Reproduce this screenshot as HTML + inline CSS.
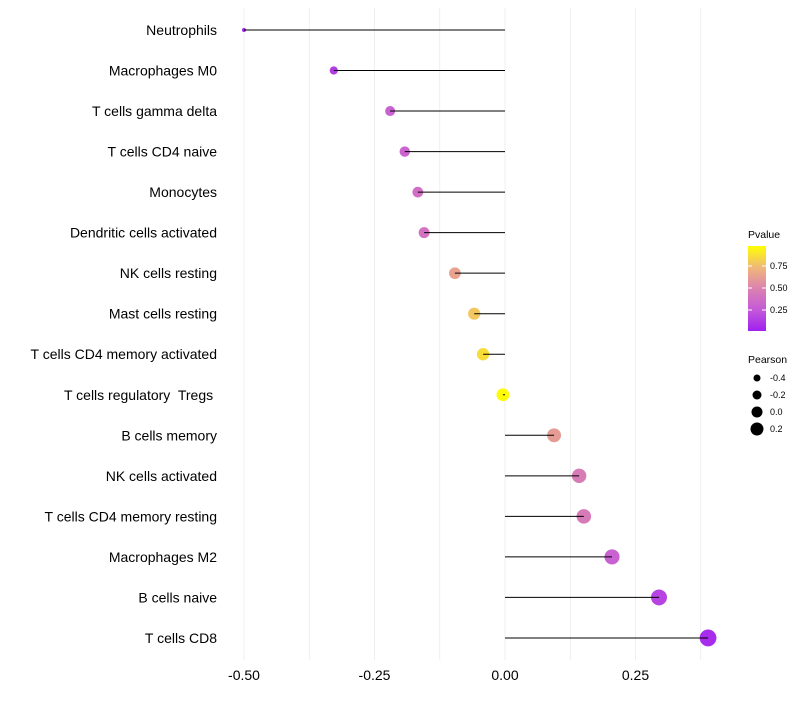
<!DOCTYPE html>
<html><head><meta charset="utf-8"><style>
body{margin:0;background:#fff;font-family:"Liberation Sans",sans-serif;}
text{white-space:pre;}
</style></head><body>
<svg id="chart" width="800" height="700" xmlns="http://www.w3.org/2000/svg">
<defs><linearGradient id="pg" x1="0" y1="1" x2="0" y2="0">
<stop offset="0" stop-color="#a020f0"/><stop offset="0.25" stop-color="#c45ad8"/><stop offset="0.5" stop-color="#db82b0"/><stop offset="0.75" stop-color="#f0b878"/><stop offset="1" stop-color="#ffff00"/></linearGradient></defs>
<g id="grid"></g><g id="marks"></g><g id="stems"></g><g id="labels"></g><g id="ticks"></g>
<g font-size="9" fill="#000">
<text x="748" y="238" font-size="10.5">Pvalue</text>
<rect x="748" y="246" width="18" height="85" fill="url(#pg)"/>
<line x1="748" y1="266" x2="752" y2="266" stroke="#fff"/><line x1="762" y1="266" x2="766" y2="266" stroke="#fff"/>
<line x1="748" y1="288" x2="752" y2="288" stroke="#fff"/><line x1="762" y1="288" x2="766" y2="288" stroke="#fff"/>
<line x1="748" y1="310" x2="752" y2="310" stroke="#fff"/><line x1="762" y1="310" x2="766" y2="310" stroke="#fff"/>
<text x="770" y="269">0.75</text><text x="770" y="291">0.50</text><text x="770" y="313">0.25</text>
</g>
<g font-size="9" fill="#000">
<text x="748" y="363" font-size="10.5">Pearson</text>
<circle cx="757" cy="378" r="3.5"/><text x="770" y="381">-0.4</text>
<circle cx="757" cy="395" r="4.5"/><text x="770" y="398">-0.2</text>
<circle cx="757" cy="412" r="5.5"/><text x="770" y="415">0.0</text>
<circle cx="757" cy="429" r="6.5"/><text x="770" y="432">0.2</text>
</g>
</svg>
<script>
const categories=["Neutrophils","Macrophages M0","T cells gamma delta","T cells CD4 naive","Monocytes","Dendritic cells activated","NK cells resting","Mast cells resting","T cells CD4 memory activated","T cells regulatory  Tregs ","B cells memory","NK cells activated","T cells CD4 memory resting","Macrophages M2","B cells naive","T cells CD8"];
const pearson=[-0.50,-0.328,-0.220,-0.192,-0.167,-0.155,-0.096,-0.059,-0.042,-0.004,0.094,0.142,0.151,0.205,0.295,0.389];
const pvalues=[0.02,0.12,0.30,0.32,0.38,0.40,0.65,0.80,0.88,0.99,0.62,0.46,0.45,0.30,0.15,0.05];
const tickValues=[-0.5,-0.25,0,0.25];
const tickLabels=["-0.50","-0.25","0.00","0.25"];
const NS="http://www.w3.org/2000/svg";
const x=v=>505+v*522;
const y=i=>30+i*40.53;
const rad=v=>Math.sqrt(4+(v+0.5)*75);
const stops=[[0,[160,32,240]],[0.25,[196,90,216]],[0.5,[219,130,176]],[0.75,[240,184,120]],[1,[255,255,0]]];
function col(p){for(let k=1;k<stops.length;k++){if(p<=stops[k][0]){const a=stops[k-1],b=stops[k],t=(p-a[0])/(b[0]-a[0]);return "rgb("+a[1].map((c,j)=>Math.round(c+(b[1][j]-c)*t)).join(",")+")";}}return "rgb(255,255,0)";}
function mk(t,at,parent){const e=document.createElementNS(NS,t);for(const k in at)e.setAttribute(k,at[k]);parent.appendChild(e);return e;}
const grid=document.getElementById("grid"),marks=document.getElementById("marks"),stems=document.getElementById("stems"),labels=document.getElementById("labels"),ticks=document.getElementById("ticks");
for(let v=-0.5;v<=0.376;v+=0.125){const l=mk("line",{x1:x(v),x2:x(v),y1:8,y2:660,stroke:"#ebebeb","stroke-width":0.8},grid);

}
categories.forEach((c,i)=>{
const ln=mk("line",{x1:x(0),x2:x(pearson[i]),y1:y(i),y2:y(i),stroke:"#000","stroke-width":1},stems);


const ci=mk("circle",{cx:x(pearson[i]),cy:y(i),r:rad(pearson[i]),fill:col(pvalues[i])},marks);


const t=mk("text",{x:217,y:y(i)+5,"text-anchor":"end","font-size":14,fill:"#000"},labels);t.textContent=c;


});
tickValues.forEach((v,i)=>{const t=mk("text",{x:x(v),y:680,"text-anchor":"middle","font-size":14,fill:"#000"},ticks);t.textContent=tickLabels[i];

});
</script>
</body></html>
